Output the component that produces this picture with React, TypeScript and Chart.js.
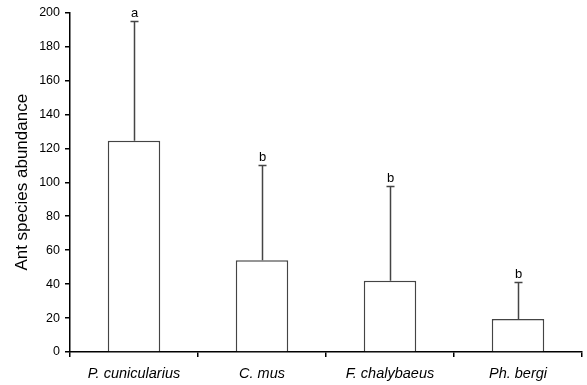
import React, { useEffect, useRef } from "react";
import { Chart, registerables } from "chart.js";

Chart.register(...registerables);

const categories = ["P. cunicularius", "C. mus", "F. chalybaeus", "Ph. bergi"];
const means = [124.5, 54, 42, 19.5];
const errorTops = [195, 110, 97.5, 41];
const letters = ["a", "b", "b", "b"];
const yTicks = [0, 20, 40, 60, 80, 100, 120, 140, 160, 180, 200];

const FONT = "'Liberation Sans', Arial, sans-serif";

const errorPlugin = {
  id: "errorBars",
  afterDatasetsDraw(chart: any) {
    const ctx = chart.ctx;
    const x = chart.scales.x;
    const y = chart.scales.y;
    ctx.save();
    ctx.strokeStyle = "#444";
    ctx.lineWidth = 1.5;
    ctx.fillStyle = "#000";
    ctx.font = `13px ${FONT}`;
    ctx.textAlign = "center";
    ctx.textBaseline = "bottom";
    categories.forEach((_, i) => {
      const cx = Math.round(x.getPixelForValue(i)) + 0.5;
      const yb = y.getPixelForValue(means[i]);
      const yt = Math.round(y.getPixelForValue(errorTops[i])) + 0.5;
      ctx.beginPath();
      ctx.moveTo(cx, yb);
      ctx.lineTo(cx, yt);
      ctx.moveTo(cx - 4, yt);
      ctx.lineTo(cx + 4, yt);
      ctx.stroke();
      ctx.fillText(letters[i], cx, yt - 2);
    });
    ctx.restore();
  },
};

export default function App() {
  const ref = useRef<HTMLCanvasElement>(null);
  useEffect(() => {
    if (!ref.current) return;
    const chart = new Chart(ref.current, {
      type: "bar",
      data: {
        labels: categories,
        datasets: [
          {
            data: means,
            backgroundColor: "#ffffff",
            borderColor: "#444",
            borderWidth: 1.5,
            barPercentage: 0.41,
            categoryPercentage: 1,
          },
        ],
      },
      options: {
        animation: false,
        responsive: false,
        layout: { padding: { top: 12, right: 5, left: 0, bottom: 0 } },
        plugins: { legend: { display: false }, tooltip: { enabled: false } },
        scales: {
          x: {
            afterFit: (s: any) => {
              s.height = 33;
            },
            grid: {
              display: true,
              offset: true,
              drawOnChartArea: false,
              drawTicks: true,
              tickLength: 5,
              color: "#000",
              lineWidth: 1.5,
            },
            border: { display: true, color: "#000", width: 1.5 },
            ticks: {
              color: "#000",
              padding: 8,
              font: { family: FONT, size: 14.5, style: "italic" },
            },
          },
          y: {
            min: 0,
            max: 200,
            afterFit: (s: any) => {
              s.width = 70;
            },
            afterBuildTicks: (s: any) => {
              s.ticks = yTicks.map((v) => ({ value: v }));
            },
            grid: {
              display: true,
              drawOnChartArea: false,
              drawTicks: true,
              tickLength: 5,
              color: "#000",
              lineWidth: 1.5,
            },
            border: { display: true, color: "#000", width: 1.5 },
            ticks: {
              color: "#000",
              padding: 5,
              font: { family: FONT, size: 12.5 },
            },
            title: {
              display: true,
              text: "Ant species abundance",
              color: "#000",
              padding: { top: 12, bottom: 0 },
              font: { family: FONT, size: 17 },
            },
          },
        },
      },
      plugins: [errorPlugin],
    });
    return () => chart.destroy();
  }, []);
  return (
    <div style={{ position: "absolute", left: 0, top: 0, width: 587, height: 385, background: "#fff" }}>
      <canvas ref={ref} width={587} height={385} style={{ width: 587, height: 385 }} />
    </div>
  );
}
